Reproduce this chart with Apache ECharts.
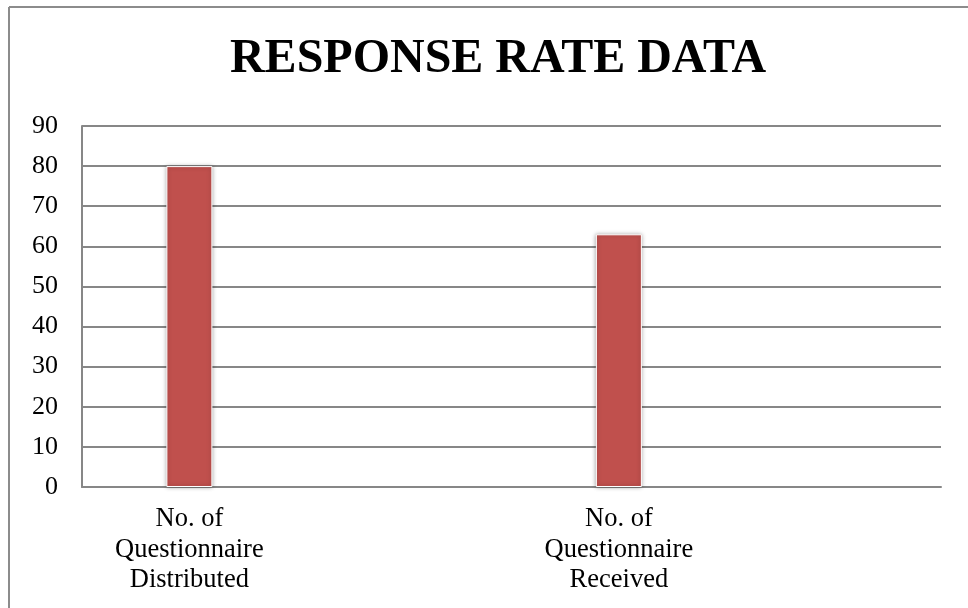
<!DOCTYPE html>
<html>
<head>
<meta charset="utf-8">
<script src="https://cdn.jsdelivr.net/npm/echarts@6/dist/echarts.min.js"></script>
<style>
  html, body { margin: 0; padding: 0; background: #fff; }
  #chart { width: 968px; height: 608px; }
</style>
</head>
<body>
<div id="chart"></div>
<script>
// Survey response figures
const categories = [
  'No. of\nQuestionnaire\nDistributed',
  'No. of\nQuestionnaire\nReceived'
];
const responseValues = [80, 63];
const yTicks = [0, 10, 20, 30, 40, 50, 60, 70, 80, 90];

// Each category sits in the left half of its slot, with an empty slot after it
const axisData = [];
const barData = [];
categories.forEach((c, i) => {
  axisData.push(c, '');
  barData.push(responseValues[i], '-');
});

const serif = '"Liberation Serif", "Times New Roman", serif';
const gridGrey = '#878787';

const chart = echarts.init(document.getElementById('chart'), null, { renderer: 'canvas' });
chart.setOption({
  animation: false,
  backgroundColor: '#ffffff',
  title: {
    text: 'RESPONSE RATE DATA',
    left: 493,
    top: 31,
    textAlign: 'center',
    textStyle: {
      fontFamily: serif,
      fontWeight: 'bold',
      fontSize: 48,
      color: '#000'
    }
  },
  graphic: [
    { type: 'line', shape: { x1: 9, y1: 7, x2: 968, y2: 7 }, style: { stroke: '#8c8c8c', lineWidth: 2 } },
    { type: 'line', shape: { x1: 9, y1: 7, x2: 9, y2: 608 }, style: { stroke: '#8c8c8c', lineWidth: 2 } }
  ],
  grid: { left: 82, right: 27, top: 126, bottom: 121, containLabel: false },
  xAxis: {
    type: 'category',
    data: axisData,
    boundaryGap: true,
    axisTick: { show: false },
    axisLine: { show: true, lineStyle: { color: gridGrey, width: 2 } },
    axisLabel: {
      interval: 0,
      margin: 17,
      fontFamily: serif,
      fontSize: 26.5,
      lineHeight: 30.5,
      color: '#000'
    }
  },
  yAxis: {
    type: 'value',
    min: yTicks[0],
    max: yTicks[yTicks.length - 1],
    interval: yTicks[1] - yTicks[0],
    axisLine: { show: true, lineStyle: { color: gridGrey, width: 2 } },
    axisTick: { show: false },
    splitLine: { show: true, lineStyle: { color: gridGrey, width: 2 } },
    axisLabel: {
      margin: 24,
      fontFamily: serif,
      fontSize: 26,
      color: '#000'
    }
  },
  series: [{
    type: 'bar',
    data: barData,
    barWidth: 46,
    itemStyle: {
      color: '#C0504D',
      borderColor: '#ffffff',
      borderWidth: 1,
      shadowBlur: 4,
      shadowColor: 'rgba(0,0,0,0.35)'
    }
  }]
});
</script>
</body>
</html>
